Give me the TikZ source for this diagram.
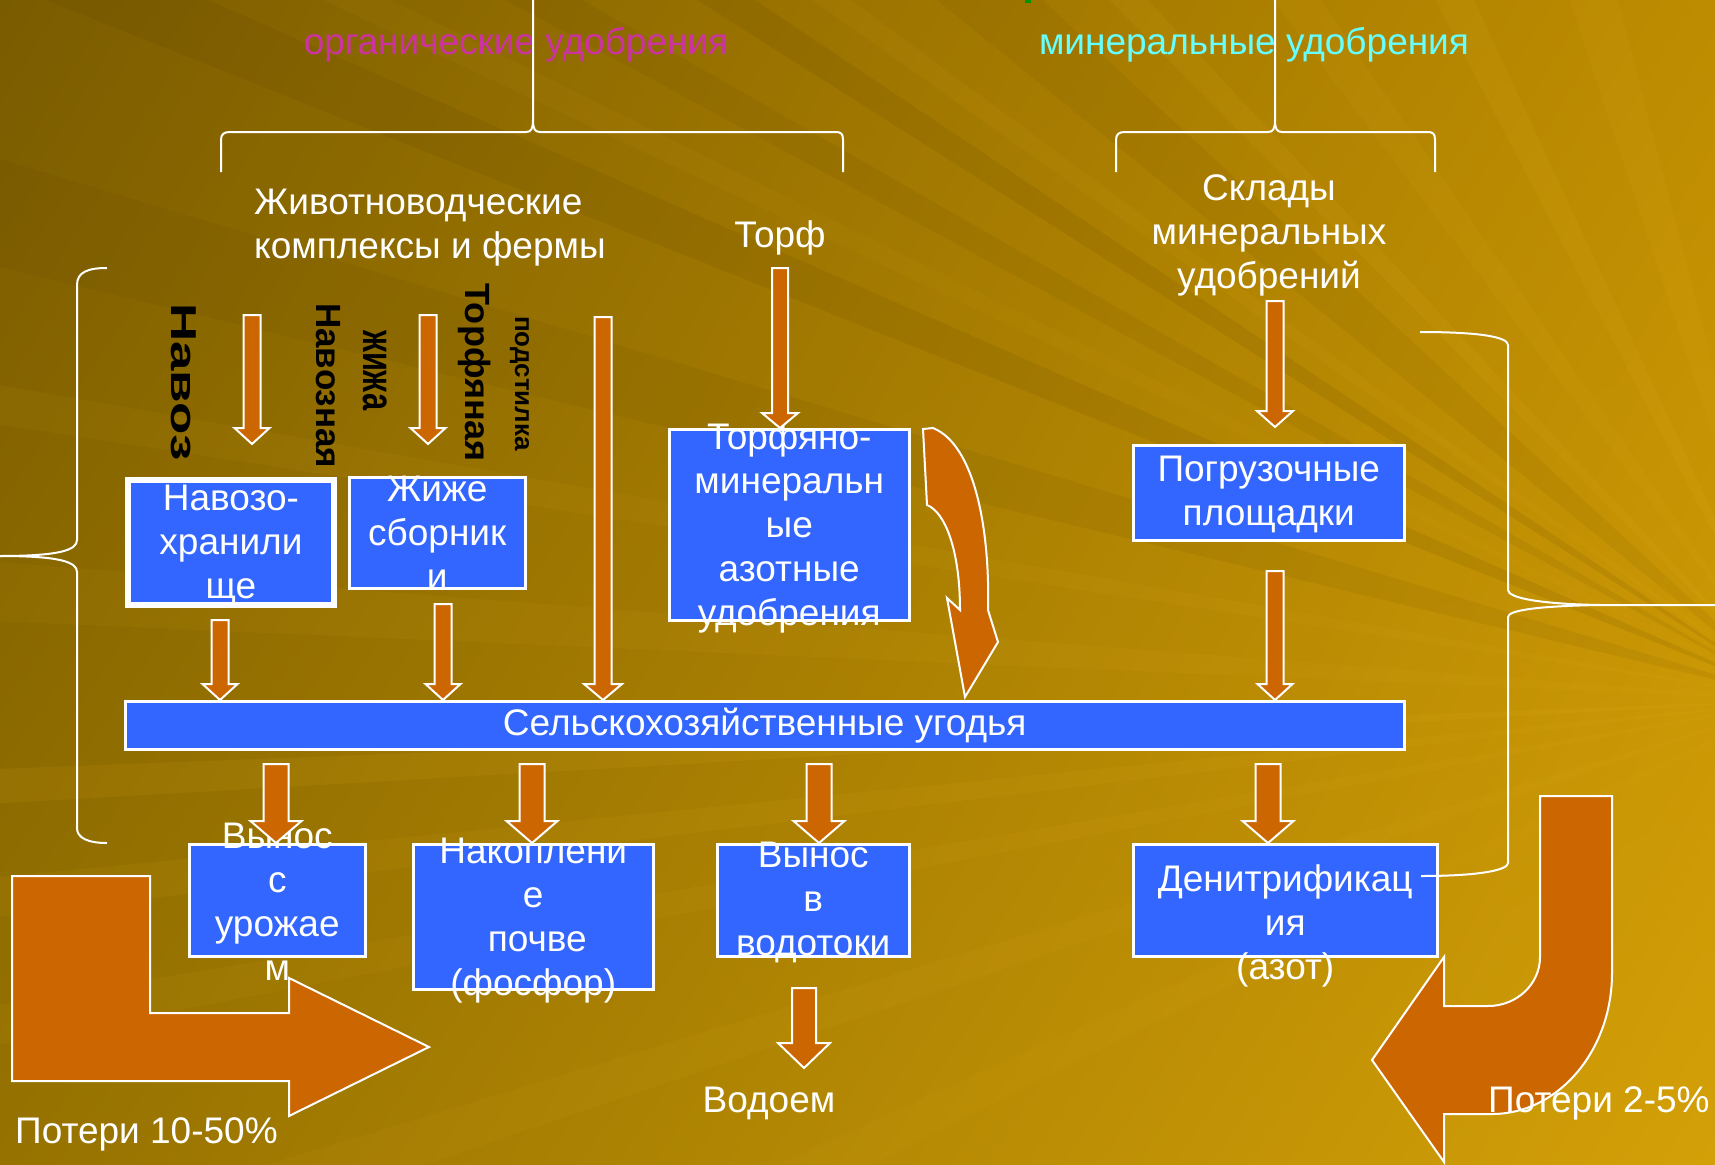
\documentclass[tikz,border=0pt]{standalone}
\usepackage{fontspec}
\setmainfont{Liberation Sans}
\usepackage{graphicx}
\usetikzlibrary{calc,shadings}
\definecolor{bgUL}{RGB}{122,92,0}
\definecolor{bgUR}{RGB}{190,140,0}
\definecolor{bgLL}{RGB}{150,114,0}
\definecolor{bgLR}{RGB}{212,160,8}
\definecolor{rayL}{RGB}{235,185,40}
\definecolor{rayD}{RGB}{80,55,0}
\definecolor{boxblue}{RGB}{51,102,255}
\definecolor{arrorange}{RGB}{204,102,0}
\definecolor{magtext}{RGB}{204,51,160}
\definecolor{cyantext}{RGB}{102,255,255}
\definecolor{smallgreen}{RGB}{0,150,0}
\newcommand\blockdown[5]{%
  \draw[blk] let \p1=(#1), \p2=(#2) in
    (\x2-#3pt,\y1) -- (\x2+#3pt,\y1) -- (\x2+#3pt,\y2+#5pt) -- (\x2+#4pt,\y2+#5pt)
    -- (\x2,\y2) -- (\x2-#4pt,\y2+#5pt) -- (\x2-#3pt,\y2+#5pt) -- cycle;}
\tikzset{
  box/.style={draw=white, fill=boxblue, line width=2.5pt, inner sep=0pt, anchor=north west},
  boxtext/.style={text=white, align=center, inner sep=0pt, font=\fontsize{37}{44}\selectfont},
  plaintext/.style={text=white, inner sep=0pt, font=\fontsize{37}{44}\selectfont},
  vlab/.style={rotate=-90, anchor=base west, inner sep=0pt, text=black},
  blk/.style={draw=white, fill=arrorange, line width=2pt, line join=miter},
  brace/.style={draw=white, line width=2pt},
  rayl/.style={fill=rayL},
  rayd/.style={fill=rayD}
}
\begin{document}
\begin{tikzpicture}[x=1pt,y=-1pt]
\useasboundingbox (0,0) rectangle (1715,1164);
% background
\shade[upper left=bgUL, upper right=bgUR, lower left=bgLL, lower right=bgLR] (0,0) rectangle (1715,1164);
\begin{scope}
\clip (0,0) rectangle (1715,1164);
\coordinate (F) at (1800,700);
\fill[rayd, opacity=.10] (F) -- (-30,-30) -- (140,-30) -- cycle;
\fill[rayl, opacity=.05] (F) -- (260,-30) -- (330,-30) -- cycle;
\fill[rayd, opacity=.08] (F) -- (450,-30) -- (530,-30) -- cycle;
\fill[rayd, opacity=.10] (F) -- (650,-30) -- (710,-30) -- cycle;
\fill[rayl, opacity=.07] (F) -- (770,-30) -- (810,-30) -- cycle;
\fill[rayd, opacity=.07] (F) -- (900,-30) -- (1010,-30) -- cycle;
\fill[rayl, opacity=.09] (F) -- (1080,-30) -- (1120,-30) -- cycle;
\fill[rayl, opacity=.07] (F) -- (1250,-30) -- (1300,-30) -- cycle;
\fill[rayl, opacity=.09] (F) -- (1420,-30) -- (1460,-30) -- cycle;
\fill[rayl, opacity=.08] (F) -- (1560,-30) -- (1610,-30) -- cycle;
\fill[rayd, opacity=.08] (F) -- (-30,150) -- (-30,260) -- cycle;
\fill[rayl, opacity=.06] (F) -- (-30,380) -- (-30,420) -- cycle;
\fill[rayl, opacity=.06] (F) -- (-30,560) -- (-30,620) -- cycle;
\fill[rayl, opacity=.09] (F) -- (-30,770) -- (-30,805) -- cycle;
\fill[rayl, opacity=.07] (F) -- (-30,880) -- (-30,920) -- cycle;
\fill[rayl, opacity=.06] (F) -- (-30,1010) -- (-30,1050) -- cycle;
\fill[rayl, opacity=.06] (F) -- (150,1200) -- (320,1200) -- cycle;
\fill[rayl, opacity=.05] (F) -- (700,1200) -- (800,1200) -- cycle;
\end{scope}
\fill[smallgreen] (1025,0) rectangle (1031,3);
% vertical labels
\node[vlab, font=\bfseries\fontsize{36}{36}\selectfont] (lnavoz) at (171,303) {\scalebox{1.47}[1]{Навоз}};
\node[vlab, font=\bfseries\fontsize{35}{35}\selectfont] (lnavozn) at (316,303) {Навозная};
\node[vlab, font=\bfseries\fontsize{44}{44}\selectfont] (lzhizha) at (363,330) {\scalebox{0.7}[1]{жижа}};
\node[vlab, font=\bfseries\fontsize{35}{35}\selectfont] (ltorf) at (465,283) {\scalebox{1.03}[1]{Торфяная}};
\node[vlab, font=\bfseries\fontsize{26}{26}\selectfont] (lpodst) at (515,316) {подстилка};
% titles
\node[plaintext, text=magtext] (org) at (516,45) {органические удобрения};
\node[plaintext, text=cyantext] (mins) at (1254,45) {минеральные удобрения};
\node[plaintext, align=left, anchor=west] (zhiv) at (254,228) {Животноводческие\\комплексы и фермы};
\node[plaintext] (torflbl) at (780,238) {Торф};
\node[plaintext, align=center] (sklad) at (1269,235) {Склады\\минеральных\\удобрений};
% top braces
\draw[brace] (221,172) -- (221,140) .. controls (221,134) and (224,132) .. (230,132) -- (526,132) .. controls (531,132) and (533,129) .. (533,120) -- (533,0);
\draw[brace] (533,120) .. controls (533,129) and (535,132) .. (540,132) -- (836,132) .. controls (841,132) and (843,134) .. (843,140) -- (843,172);
\draw[brace] (1116,172) -- (1116,140) .. controls (1116,134) and (1119,132) .. (1125,132) -- (1268,132) .. controls (1273,132) and (1275,129) .. (1275,120) -- (1275,0);
\draw[brace] (1275,120) .. controls (1275,129) and (1277,132) .. (1282,132) -- (1428,132) .. controls (1433,132) and (1435,134) .. (1435,140) -- (1435,172);
% boxes
\node[box, line width=6pt, minimum width=206pt, minimum height=125pt] (nav) at (125,477) {};
\node[box, minimum width=176pt, minimum height=111pt] (zhi) at (348,476) {};
\node[box, minimum width=240pt, minimum height=191pt] (torf) at (668,428) {};
\node[box, minimum width=271pt, minimum height=95pt] (pogr) at (1132,444) {};
\node[box, minimum width=1279pt, minimum height=48pt] (sel) at (124,700) {};
\node[box, minimum width=176pt, minimum height=112pt] (vyn) at (188,843) {};
\node[box, minimum width=240pt, minimum height=145pt] (nak) at (412,843) {};
\node[box, minimum width=192pt, minimum height=112pt] (vod) at (716,843) {};
\node[box, minimum width=304pt, minimum height=112pt] (den) at (1132,843) {};
% box texts
\node[boxtext] (navT) at ($(nav.center)+(0,3)$) {Навозо-\\хранили\\ще};
\node[boxtext] (zhiT) at ($(zhi.center)+(0,0)$) {Жиже\\сборник\\и};
\node[boxtext] (torfT) at ($(torf.center)+(0,3)$) {Торфяно-\\минеральн\\ые\\азотные\\удобрения};
\node[boxtext] (pogrT) at ($(pogr.center)+(0,2)$) {Погрузочные\\площадки};
\node[boxtext] (selT) at (sel.center) {Сельскохозяйственные угодья};
\node[boxtext] (vynT) at ($(vyn.center)+(0,2)$) {Вынос\\с\\урожае\\м};
\node[boxtext] (nakT) at ($(nak.center)+(0,4)$) {Накоплени\\е\\\hspace*{8pt}почве\\(фосфор)};
\node[boxtext] (vodT) at ($(vod.center)+(0,2)$) {Вынос\\в\\водотоки};
\node[boxtext] (denT) at ($(den.center)+(0,26)$) {Денитрификац\\ия\\(азот)};
\node[plaintext, anchor=base] (vodoem) at (769,1112) {Водоем};
% arrow coordinates
\coordinate (a1) at (252,315);
\coordinate (a2) at (428,315);
\coordinate (a3) at (603,317);
\coordinate (a4) at (780,268);
\coordinate (a5) at (1275,301);
\coordinate (a6) at (220,620);
\coordinate (a7) at (443,604);
\coordinate (a8) at (1275,571);
\coordinate (a9) at (276,764);
\coordinate (a10) at (532,764);
\coordinate (a11) at (819,764);
\coordinate (a12) at (1268,764);
\coordinate (a13) at (804,988);
\coordinate (a13t) at (804,1068);
\blockdown{a1}{$(a1 |- nav.north)+(0,-33)$}{8.5}{17.5}{16}
\blockdown{a2}{$(a2 |- zhi.north)+(0,-32)$}{8.5}{17.5}{16}
\blockdown{a3}{a3 |- sel.north}{8.5}{19}{16}
\blockdown{a4}{a4 |- torf.north}{8}{18}{15}
\blockdown{a5}{$(a5 |- pogr.north)+(0,-17)$}{8.5}{18}{16}
\blockdown{a6}{a6 |- sel.north}{8.5}{17.5}{16}
\blockdown{a7}{a7 |- sel.north}{8.5}{17.5}{16}
\blockdown{a8}{a8 |- sel.north}{8.5}{17.5}{16}
\blockdown{a9}{a9 |- vyn.north}{12.5}{25.5}{22}
\blockdown{a10}{a10 |- nak.north}{12.5}{25.5}{22}
\blockdown{a11}{a11 |- vod.north}{12.5}{25.5}{22}
\blockdown{a12}{a12 |- den.north}{12.5}{25.5}{22}
\blockdown{a13}{a13t}{12}{26}{25}
% curved arrow from peat box to fields
\draw[blk] (923,429) -- (927,505) .. controls (945,512) and (960,550) .. (960,610) -- (947,598) -- (965,697) -- (998,642) -- (988,610) .. controls (990,530) and (975,445) .. (933,428) -- cycle;
% loss arrows
\draw[blk] (12,876) -- (150,876) -- (150,1013) -- (289,1013) -- (289,978) -- (429,1047) -- (289,1116) -- (289,1081) -- (12,1081) -- cycle;
\draw[blk] (1540,796) -- (1612,796) -- (1612,973) .. controls (1612,1051) and (1558,1114) .. (1492,1114) -- (1444,1114) -- (1444,1162) -- (1372,1060) -- (1444,957) -- (1444,1006) -- (1488,1006) .. controls (1517,1006) and (1540,984) .. (1540,957) -- cycle;
\node[plaintext, anchor=base west] (loss1) at (15,1143) {Потери 10-50\%};
\node[plaintext, anchor=base west] (loss2) at (1488,1112) {Потери 2-5\%};
% right brace
\coordinate (rbTop) at (1420,332);
\coordinate (rbEnd) at (1421,876);
\draw[brace] (rbTop) .. controls (1480,332) and (1508,337) .. (1508,345) -- (1508,590) .. controls (1508,598) and (1540,604) .. (1600,605) -- (1715,605);
\draw[brace] (1600,605) .. controls (1540,606) and (1508,610) .. (1508,617) -- (1508,863) .. controls (1508,870) and (1480,876) .. (rbEnd);
% left brace
\draw[brace] (107,268) .. controls (88,268) and (77,272) .. (77,285) -- (77,540) .. controls (77,550) and (60,556) .. (0,556);
\draw[brace] (0,556) .. controls (60,556) and (77,562) .. (77,572) -- (77,828) .. controls (77,838) and (88,843) .. (107,843);
\end{tikzpicture}
\end{document}
